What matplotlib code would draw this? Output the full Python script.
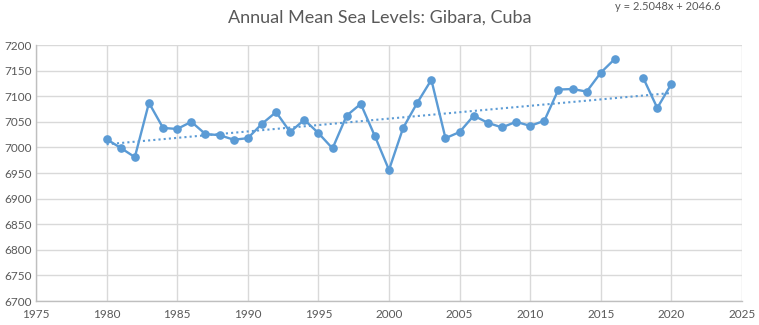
import numpy as np
import matplotlib
matplotlib.use("Agg")
import matplotlib.pyplot as plt

# Annual mean sea level at Gibara, Cuba (mm); 2017 has no record
years = list(range(1980, 2021))
sea_level = [7016, 6999, 6981, 7087, 7038, 7036, 7050, 7026, 7024, 7015,
             7018, 7046, 7069, 7030, 7054, 7028, 6998, 7062, 7085, 7022,
             6956, 7038, 7087, 7132, 7018, 7030, 7062, 7048, 7039, 7050,
             7042, 7052, 7113, 7114, 7109, 7146, 7173, np.nan, 7136, 7077,
             7124]

# Linear trend coefficients
trend_slope = 2.5048
trend_intercept = 2046.6

x_ticks = list(range(1975, 2026, 5))
y_ticks = list(range(6700, 7201, 50))

plt.rcParams['font.family'] = ['Lato', 'DejaVu Sans']

W, H = 759, 325
fig = plt.figure(figsize=(W / 100, H / 100), dpi=100)
ax = fig.add_axes([36 / W, 1 - 301 / H, (742 - 36) / W, (301 - 45) / H])

line_color = '#5B9BD5'
text_color = '#595959'
grid_color = '#D9D9D9'

ax.plot(years, sea_level, color=line_color, linewidth=1.7,
        marker='o', markersize=5.2, zorder=3)

trend_x = np.array([years[0], years[-1]])
trend_y = trend_slope * trend_x + trend_intercept
ax.plot(trend_x, trend_y, color=line_color, linewidth=1.5,
        linestyle=(0, (1, 1.5)), zorder=2)

ax.set_xlim(1975, 2025)
ax.set_ylim(6700, 7200)
ax.set_xticks(x_ticks)
ax.set_yticks(y_ticks)
ax.grid(True, color=grid_color, linewidth=1)
ax.set_axisbelow(True)

for side in ['top', 'right']:
    ax.spines[side].set_visible(False)
for side in ['left', 'bottom']:
    ax.spines[side].set_color('#BFBFBF')
    ax.spines[side].set_linewidth(1)

ax.tick_params(axis='both', length=0, labelsize=8.5, colors=text_color)
ax.tick_params(axis='y', pad=3)
ax.tick_params(axis='x', pad=6)

fig.text(380 / W, 1 - 18 / H, 'Annual Mean Sea Levels: Gibara, Cuba',
         ha='center', va='center', fontsize=13, color=text_color)
fig.text(668 / W, 1 - 6 / H, 'y = 2.5048x + 2046.6',
         ha='center', va='center', fontsize=8, color=text_color)

fig.savefig('out.png', dpi=100)
